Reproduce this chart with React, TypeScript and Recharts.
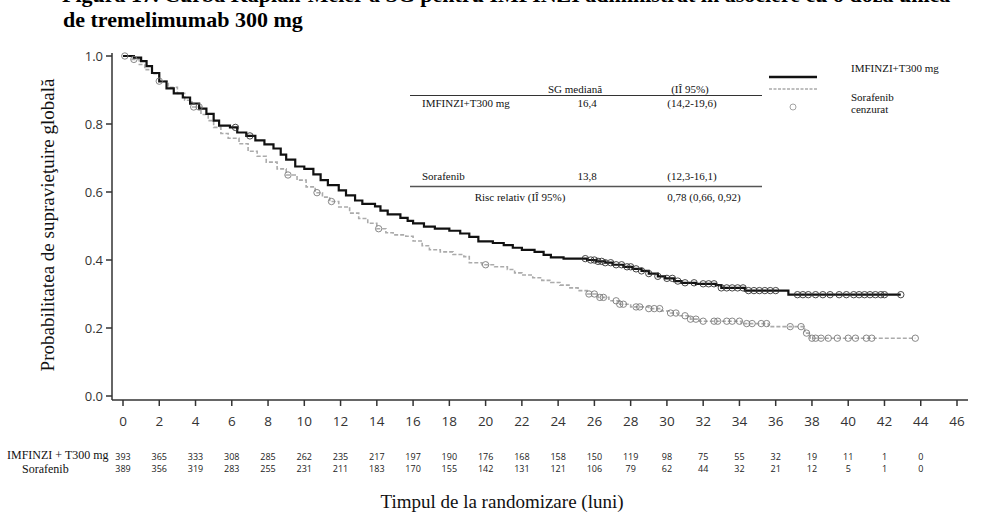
import { ComposedChart, Line, Scatter, XAxis, YAxis } from "recharts";

// months on the x axis and numbers at risk under each tick
const months = [0, 2, 4, 6, 8, 10, 12, 14, 16, 18, 20, 22, 24, 26, 28, 30, 32, 34, 36, 38, 40, 42, 44, 46];
const riskImfinzi = [393, 365, 333, 308, 285, 262, 235, 217, 197, 190, 176, 168, 158, 150, 119, 98, 75, 55, 32, 19, 11, 1, 0];
const riskSorafenib = [389, 356, 319, 283, 255, 231, 211, 183, 170, 155, 142, 131, 121, 106, 79, 62, 44, 32, 21, 12, 5, 1, 0];
const yTicks = [0, 0.2, 0.4, 0.6, 0.8, 1.0];

// Kaplan-Meier steps
const imfinziTime = [0, 0.6, 1.0, 1.3, 1.6, 2.0, 2.4, 2.8, 3.3, 3.7, 4.2, 4.6, 5.0, 5.3, 5.9, 6.3, 6.8, 7.3, 7.8, 8.3, 8.7, 9.0, 9.5, 10.0, 10.5, 10.9, 11.3, 11.9, 12.3, 12.8, 13.2, 13.9, 14.2, 14.6, 15.3, 15.7, 16.0, 16.6, 17.2, 18.0, 18.6, 19.1, 19.6, 20.4, 21.0, 21.5, 22.0, 22.7, 23.2, 23.6, 24.3, 25.6, 26.1, 26.6, 27.0, 27.6, 28.1, 28.6, 29.0, 29.5, 29.9, 30.4, 30.8, 31.6, 32.7, 33.0, 34.3, 36.7, 42.9];
const imfinziSurv = [1.0, 0.995, 0.985, 0.97, 0.95, 0.925, 0.905, 0.89, 0.878, 0.86, 0.845, 0.83, 0.81, 0.795, 0.79, 0.775, 0.765, 0.752, 0.74, 0.728, 0.71, 0.695, 0.675, 0.668, 0.652, 0.635, 0.62, 0.605, 0.59, 0.575, 0.565, 0.558, 0.545, 0.534, 0.524, 0.515, 0.508, 0.498, 0.492, 0.486, 0.478, 0.468, 0.455, 0.45, 0.444, 0.436, 0.43, 0.424, 0.415, 0.408, 0.404, 0.4, 0.396, 0.392, 0.386, 0.38, 0.374, 0.368, 0.36, 0.352, 0.346, 0.338, 0.333, 0.33, 0.326, 0.318, 0.31, 0.298, 0.298];
const sorafenibTime = [0, 0.5, 0.9, 1.2, 1.6, 2.0, 2.5, 3.0, 3.4, 3.8, 4.3, 4.7, 5.0, 5.4, 5.8, 6.4, 6.9, 7.4, 7.9, 8.5, 9.0, 9.6, 10.1, 10.6, 11.0, 11.4, 11.9, 12.5, 13.0, 13.5, 14.0, 14.5, 14.9, 15.6, 16.0, 16.5, 16.9, 17.5, 18.2, 18.8, 19.1, 19.8, 20.5, 21.2, 21.6, 22.0, 22.6, 23.1, 23.6, 24.1, 24.6, 25.1, 25.6, 26.2, 26.8, 27.4, 28.0, 29.0, 29.7, 30.2, 30.6, 31.3, 31.8, 34.1, 35.6, 37.6, 37.9, 43.7];
const sorafenibSurv = [1.0, 0.99, 0.975, 0.96, 0.948, 0.926, 0.908, 0.89, 0.87, 0.85, 0.828, 0.81, 0.79, 0.772, 0.758, 0.742, 0.72, 0.705, 0.688, 0.668, 0.65, 0.635, 0.615, 0.598, 0.585, 0.572, 0.556, 0.538, 0.522, 0.508, 0.492, 0.48, 0.474, 0.47, 0.456, 0.442, 0.43, 0.424, 0.416, 0.41, 0.392, 0.386, 0.38, 0.372, 0.362, 0.356, 0.348, 0.34, 0.334, 0.326, 0.318, 0.31, 0.3, 0.29, 0.28, 0.27, 0.262, 0.257, 0.25, 0.244, 0.236, 0.226, 0.22, 0.213, 0.204, 0.185, 0.17, 0.17];

// censoring times
const imfinziCensor = [6.2, 7.0, 25.5, 25.8, 26.0, 26.2, 26.4, 26.6, 26.9, 27.2, 27.5, 27.8, 28.0, 28.3, 28.6, 29.0, 29.5, 30.0, 30.3, 30.6, 31.0, 31.5, 32.0, 32.3, 32.6, 33.0, 33.3, 33.6, 33.9, 34.2, 34.5, 34.8, 35.1, 35.4, 35.7, 36.0, 37.2, 37.5, 37.8, 38.2, 38.6, 39.0, 39.5, 39.9, 40.3, 40.6, 40.9, 41.2, 41.5, 41.8, 42.0, 42.9];
const sorafenibCensor = [0.1, 0.6, 2.0, 3.9, 4.2, 9.1, 10.7, 11.5, 14.1, 20.0, 25.7, 26.0, 26.3, 26.5, 27.2, 27.4, 27.6, 28.3, 28.5, 29.0, 29.3, 29.6, 30.2, 30.5, 31.0, 31.3, 31.6, 32.0, 32.6, 32.8, 33.3, 33.6, 34.0, 34.4, 34.7, 35.2, 35.5, 36.8, 37.4, 37.7, 38.0, 38.2, 38.5, 38.9, 39.4, 40.0, 40.4, 41.0, 41.3, 43.7];

const SERIF = "'Liberation Serif', 'Times New Roman', serif";
const SANS = "'Open Sans', 'DejaVu Sans', sans-serif";

const toCurve = (times: number[], surv: number[]) => times.map((t, i) => ({ t, p: surv[i] }));

// value of the step curve at time t
const survAt = (times: number[], surv: number[], t: number) => {
  let v = surv[0];
  for (let i = 0; i < times.length; i++) if (times[i] <= t) v = surv[i];
  return v;
};

const imfinziCurve = toCurve(imfinziTime, imfinziSurv);
const sorafenibCurve = toCurve(sorafenibTime, sorafenibSurv);
const imfinziMarks = imfinziCensor.map((t) => ({ t, p: survAt(imfinziTime, imfinziSurv, t) }));
const sorafenibMarks = sorafenibCensor.map((t) => ({ t, p: survAt(sorafenibTime, sorafenibSurv, t) }));

function MonthTick(props: any) {
  const { x, y, payload, index } = props;
  return (
    <g>
      <text x={x} y={y + 13} textAnchor="middle" dominantBaseline="central" fontSize={13.5} fill="#333" fontFamily={SANS}>
        {payload.value}
      </text>
      {index < riskImfinzi.length && (
        <text x={x} y={y + 48} textAnchor="middle" dominantBaseline="central" fontSize={9} fill="#222" fontFamily={SANS}>
          {riskImfinzi[index]}
        </text>
      )}
      {index < riskSorafenib.length && (
        <text x={x} y={y + 60} textAnchor="middle" dominantBaseline="central" fontSize={9} fill="#222" fontFamily={SANS}>
          {riskSorafenib[index]}
        </text>
      )}
    </g>
  );
}

const censorShape = (color: string) => (props: any) =>
  <circle cx={props.cx} cy={props.cy} r={3.2} fill="none" stroke={color} strokeWidth={0.9} />;

export default function App() {
  return (
    <div style={{ position: "absolute", left: 0, top: 0, width: 998, height: 518, background: "#fff", overflow: "hidden" }}>
      <ComposedChart width={998} height={518} margin={{ top: 53, right: 30, bottom: 33, left: 72 }}>
        <XAxis
          dataKey="t"
          type="number"
          domain={[0, 46]}
          ticks={months}
          interval={0}
          padding={{ left: 11, right: 11 }}
          height={85}
          tickSize={6}
          tickMargin={2}
          stroke="#333"
          strokeWidth={1.5}
          tick={<MonthTick />}
        />
        <YAxis
          dataKey="p"
          type="number"
          domain={[0, 1]}
          ticks={yTicks}
          interval={0}
          padding={{ top: 3, bottom: 4 }}
          width={40}
          tickSize={6}
          tickMargin={3}
          stroke="#333"
          strokeWidth={1.5}
          tickFormatter={(v: number) => v.toFixed(1)}
          tick={{ fontSize: 13, fill: "#333", fontFamily: SANS }}
        />
        <Line data={sorafenibCurve} dataKey="p" type="stepAfter" stroke="#ababab" strokeWidth={1.6} strokeDasharray="4 2" dot={false} activeDot={false} isAnimationActive={false} />
        <Line data={imfinziCurve} dataKey="p" type="stepAfter" stroke="#111" strokeWidth={2.2} dot={false} activeDot={false} isAnimationActive={false} />
        <Scatter data={sorafenibMarks} dataKey="p" shape={censorShape("#7a7a7a")} isAnimationActive={false} />
        <Scatter data={imfinziMarks} dataKey="p" shape={censorShape("#333")} isAnimationActive={false} />
      </ComposedChart>

      <svg width={998} height={518} style={{ position: "absolute", left: 0, top: 0, pointerEvents: "none" }}>
        <g fontFamily={SERIF} fontWeight="bold" fontSize={22} fill="#000">
          <text x={62} y={2}>Figura 17. Curba Kaplan-Meier a SG pentru IMFINZI administrat în asociere cu o doză unică</text>
          <text x={63} y={27}>de tremelimumab 300 mg</text>
        </g>

        <text x={47} y={225} transform="rotate(-90 47 225)" textAnchor="middle" dominantBaseline="central" fontFamily={SERIF} fontSize={19} fill="#111">
          Probabilitatea de supravieţuire globală
        </text>
        <text x={502} y={501} textAnchor="middle" dominantBaseline="central" fontFamily={SERIF} fontSize={19} fill="#111">
          Timpul de la randomizare (luni)
        </text>

        <g fontFamily={SERIF} fontSize={12} fill="#111" dominantBaseline="central">
          <text x={7} y={455}>IMFINZI + T300 mg</text>
          <text x={22} y={469}>Sorafenib</text>
        </g>

        <g fontFamily={SERIF} fontSize={11} fill="#111" dominantBaseline="central">
          <text x={575} y={89} textAnchor="middle">SG mediană</text>
          <text x={690} y={89} textAnchor="middle">(IÎ 95%)</text>
          <line x1={410} x2={762} y1={95.5} y2={95.5} stroke="#333" strokeWidth={1.2} />
          <text x={422} y={103}>IMFINZI+T300 mg</text>
          <text x={587} y={103} textAnchor="middle">16,4</text>
          <text x={692} y={103} textAnchor="middle">(14,2-19,6)</text>
          <text x={422} y={176}>Sorafenib</text>
          <text x={587} y={176} textAnchor="middle">13,8</text>
          <text x={692} y={176} textAnchor="middle">(12,3-16,1)</text>
          <line x1={410} x2={762} y1={186.5} y2={186.5} stroke="#555" strokeWidth={1.6} />
          <text x={520} y={197} textAnchor="middle">Risc relativ (IÎ 95%)</text>
          <text x={704} y={197} textAnchor="middle">0,78 (0,66,  0,92)</text>

          <line x1={769} x2={817} y1={77} y2={77} stroke="#111" strokeWidth={2.5} />
          <line x1={769} x2={817} y1={89} y2={89} stroke="#aaa" strokeWidth={1.3} strokeDasharray="3 1.5" />
          <circle cx={793} cy={107} r={3} fill="none" stroke="#999" strokeWidth={0.9} />
          <text x={851} y={68}>IMFINZI+T300 mg</text>
          <text x={851} y={97}>Sorafenib</text>
          <text x={851} y={109}>cenzurat</text>
        </g>
      </svg>
    </div>
  );
}
